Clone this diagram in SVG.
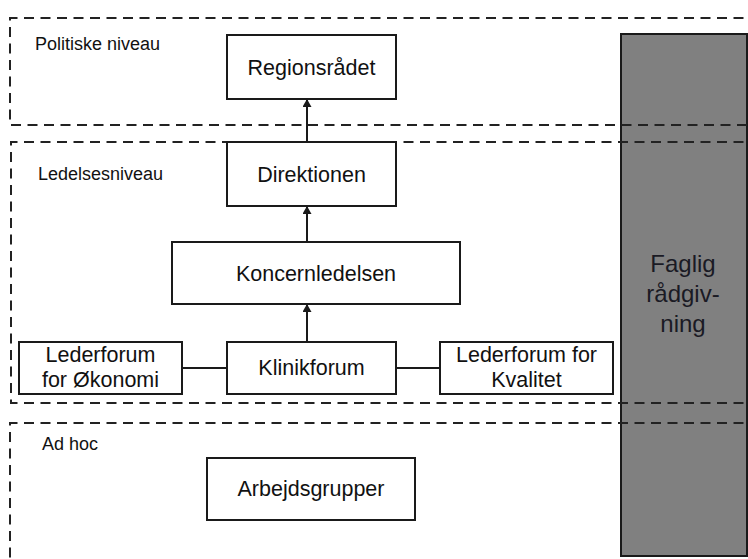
<svg xmlns="http://www.w3.org/2000/svg" width="748" height="559" viewBox="0 0 748 559">
<defs>
<style>
.bg{fill:#ffffff}
.zone{fill:none;stroke:#222;stroke-width:2;stroke-dasharray:10 6.5}
.box{fill:#ffffff;stroke:#1a1a1a;stroke-width:2}
.side{fill:#808080;stroke:#1a1a1a;stroke-width:2}
.t{font-family:"Liberation Sans",Arial,sans-serif;font-size:21.5px;fill:#111;text-anchor:middle}
.lbl{font-family:"Liberation Sans",Arial,sans-serif;font-size:18px;fill:#111}
.side-t{font-family:"Liberation Sans",Arial,sans-serif;font-size:24px;fill:#1a1a24;text-anchor:middle}
.edge{fill:none;stroke:#1a1a1a;stroke-width:2}
</style>
<marker id="arr" markerWidth="8" markerHeight="9" refX="8" refY="4.5" orient="auto" markerUnits="userSpaceOnUse">
<path d="M0,0 L8,4.5 L0,9 Z" fill="#1a1a1a"/>
</marker>
</defs>
<rect class="bg" x="0" y="0" width="748" height="559"/>

<g id="faglig">
<rect class="side" x="621" y="34" width="126" height="522"/>
<text class="side-t" x="683" y="272">Faglig</text>
<text class="side-t" x="683" y="302">rådgiv-</text>
<text class="side-t" x="683" y="332">ning</text>
</g>

<g id="zones">
<path class="zone" d="M760 18 H10 V125 H760"/>
<path class="zone" d="M760 142 H11 V403 H760"/>
<path class="zone" d="M760 423 H10 V570"/>
<text class="lbl" x="35" y="50">Politiske niveau</text>
<text class="lbl" x="38" y="180">Ledelsesniveau</text>
<text class="lbl" x="42" y="450">Ad hoc</text>
</g>

<g id="connectors">
<line class="edge" x1="307" y1="142" x2="307" y2="99" marker-end="url(#arr)"/>
<line class="edge" x1="307" y1="242" x2="307" y2="206" marker-end="url(#arr)"/>
<line class="edge" x1="307" y1="342" x2="307" y2="304" marker-end="url(#arr)"/>
<line class="edge" x1="182" y1="368" x2="227" y2="368"/>
<line class="edge" x1="396" y1="368" x2="440" y2="368"/>
</g>

<g id="regionsraadet">
<rect class="box" x="227" y="35" width="169" height="64"/>
<text class="t" x="311.5" y="74.5">Regionsrådet</text>
</g>
<g id="direktionen">
<rect class="box" x="227" y="142" width="169" height="64"/>
<text class="t" x="311.5" y="181.5">Direktionen</text>
</g>
<g id="koncernledelsen">
<rect class="box" x="172" y="242" width="288" height="62"/>
<text class="t" x="316" y="281">Koncernledelsen</text>
</g>
<g id="klinikforum">
<rect class="box" x="227" y="342" width="169" height="52"/>
<text class="t" x="311.5" y="375">Klinikforum</text>
</g>
<g id="lederforum-oekonomi">
<rect class="box" x="19" y="342" width="163" height="52"/>
<text class="t" x="100.5" y="362">Lederforum</text>
<text class="t" x="100.5" y="387">for Økonomi</text>
</g>
<g id="lederforum-kvalitet">
<rect class="box" x="440" y="342" width="173" height="52"/>
<text class="t" x="526.5" y="362">Lederforum for</text>
<text class="t" x="526.5" y="387">Kvalitet</text>
</g>
<g id="arbejdsgrupper">
<rect class="box" x="207" y="458" width="208" height="62"/>
<text class="t" x="311" y="496">Arbejdsgrupper</text>
</g>
</svg>
